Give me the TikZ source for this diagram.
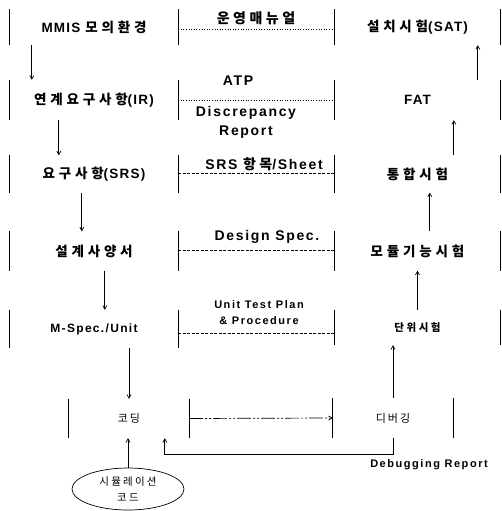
\documentclass[tikz,border=0pt]{standalone}
\usepackage{fontspec}
\setmainfont{Liberation Sans}
\newfontfamily\krf{Noto Sans CJK KR}
\usetikzlibrary{arrows.meta,shapes.geometric}
\newcommand{\lsp}[1]{\addfontfeature{LetterSpace=#1}}
\newlength\kg
\setlength\kg{2pt}
\XeTeXinterchartokenstate=1
\newXeTeXintercharclass\hangulcls
\count255="AC00
\loop
  \XeTeXcharclass\count255=\hangulcls
  \ifnum\count255<"D7A3 \advance\count255 by 1
\repeat
\XeTeXinterchartoks\hangulcls\hangulcls={\hskip\kg}
\tikzset{
  brk/.style={inner sep=0pt, font=\bfseries\fontsize{13.5}{15}\selectfont\lsp{9}\setlength\kg{3.8pt}},
  mspecst/.style={inner sep=0pt, font=\bfseries\fontsize{12}{14}\selectfont\lsp{11}},
  unitst/.style={inner sep=0pt, font=\bfseries\krf\fontsize{10.5}{12}\selectfont\setlength\kg{2.5pt}},
  lightbrk/.style={inner sep=0pt, font=\krf\fontsize{11}{12}\selectfont\setlength\kg{2pt}},
  mid/.style={inner sep=0pt, font=\bfseries\fontsize{14}{19}\selectfont\lsp{12}\setlength\kg{3.5pt}, align=center},
  midsmall/.style={inner sep=0pt, font=\bfseries\fontsize{11}{16}\selectfont\lsp{14}, align=center},
  side/.style={line width=0.9pt},
  arr/.style={line width=0.7pt, -{Straight Barb[length=3.5pt,width=4pt]}},
  dotln/.style={line width=0.7pt, dash pattern=on 1pt off 1.6pt},
  dashln/.style={line width=0.7pt, dash pattern=on 3pt off 1.5pt},
}
\begin{document}
\begin{tikzpicture}[x=1pt,y=-1pt]
\useasboundingbox (0,0) rectangle (502,511);
% left column
\node[brk, minimum width=168pt, minimum height=36pt] (mmis) at (94,27) {MMIS {\krf 모의환경}};
\node[brk, minimum width=168pt, minimum height=40pt] (ir) at (94,100) {{\krf 연계요구사항}(IR)};
\node[brk, minimum width=168pt, minimum height=37pt] (srs) at (94,174) {{\krf 요구사항}(SRS)};
\node[brk, minimum width=168pt, minimum height=39pt] (design) at (94,251) {{\krf 설계사양서}};
\node[mspecst, minimum width=168pt, minimum height=38pt] (mspec) at (94,329) {M-Spec./Unit};
\node[lightbrk, minimum width=120pt, minimum height=39pt] (coding) at (129,418.5) {코딩};
% right column
\node[brk, minimum width=165pt, minimum height=36pt] (sat) at (417.5,27) {{\krf 설치시험}(SAT)};
\node[brk, minimum width=165pt, minimum height=40pt] (fat) at (417.5,100) {FAT};
\node[brk, minimum width=165pt, minimum height=37pt] (integ) at (417.5,174) {{\krf 통합시험}};
\node[brk, minimum width=165pt, minimum height=39pt] (module) at (417.5,251) {{\krf 모듈기능시험}};
\node[unitst, minimum width=165pt, minimum height=35pt] (unit) at (417.5,327.5) {단위시험};
\node[lightbrk, minimum width=120pt, minimum height=39pt] (debug) at (393,418) {디버깅};
% simulation code
\node[draw, ellipse, line width=0.7pt, minimum width=112pt, minimum height=42pt, inner sep=0pt,
      font=\krf\fontsize{10.5}{16}\selectfont\setlength\kg{2.2pt}, align=center] (sim) at (128,489) {시뮬레이션\\코드};
% bracket sides
\foreach \n in {mmis,ir,srs,design,mspec,coding,sat,fat,integ,module,unit,debug}{
  \draw[side] (\n.north west) -- (\n.south west);
  \draw[side] (\n.north east) -- (\n.south east);
}
% middle labels
\node[mid] (t1) at (256,18) {{\krf 운영매뉴얼}};
\node[mid] (t2) at (238,81) {ATP};
\node[mid] (t3) at (246,122) {Discrepancy\\Report};
\node[mid] (t4) at (264,164) {SRS {\krf 항목}/Sheet};
\node[mid] (t5) at (267,237) {Design Spec.};
\node[midsmall] (t6) at (259,313) {Unit Test Plan\\\& Procedure};
\node[midsmall] (t7) at (429,465) {Debugging Report};
% middle lines
\draw[dotln] ([yshift=-2pt]mmis.east) -- ([yshift=-2pt]sat.west);
\draw[dotln] (ir.east) -- (fat.west);
\draw[dashln] ([yshift=1pt]srs.east) -- ([yshift=1pt]integ.west);
\draw[dashln] ([yshift=1pt]design.east) -- ([yshift=1pt]module.west);
\draw[dashln] ([yshift=-4pt]mspec.east) -- ([yshift=-4pt]mspec.east -| unit.west);
% left arrows (down)
\draw[arr] ([xshift=22pt]mmis.south west) -- ([xshift=22pt]ir.north west);
\draw[arr] ([xshift=49pt]ir.south west) -- ([xshift=49pt]srs.north west);
\draw[arr] ([xshift=72pt]srs.south west) -- ([xshift=72pt]design.north west);
\draw[arr] ([xshift=95pt]design.south west) -- ([xshift=95pt]mspec.north west);
\draw[arr] (mspec.south -| coding.north) -- (coding.north);
% right arrows (up)
\draw[arr] (debug.north) -- (debug.north |- unit.south);
\draw[arr] (unit.north) -- (module.south);
\draw[arr] ([xshift=95pt]module.north west) -- ([xshift=95pt]integ.south west);
\draw[arr] ([xshift=119pt]integ.north west) -- ([xshift=119pt]fat.south west);
\draw[arr] ([xshift=143pt]fat.north west) -- ([xshift=143pt]sat.south west);
% coding -> debugging
\draw[arr, dash pattern=on 14pt off 2pt on 2pt off 2pt on 2pt off 2pt] (coding.east) -- (debug.west);
% debugging report feedback
\draw[arr] (debug.south) -- ++(0,17) -| ([xshift=96pt]coding.south west);
% simulation -> coding
\draw[arr] (sim.north) -- (sim.north |- coding.south);
\end{tikzpicture}
\end{document}
